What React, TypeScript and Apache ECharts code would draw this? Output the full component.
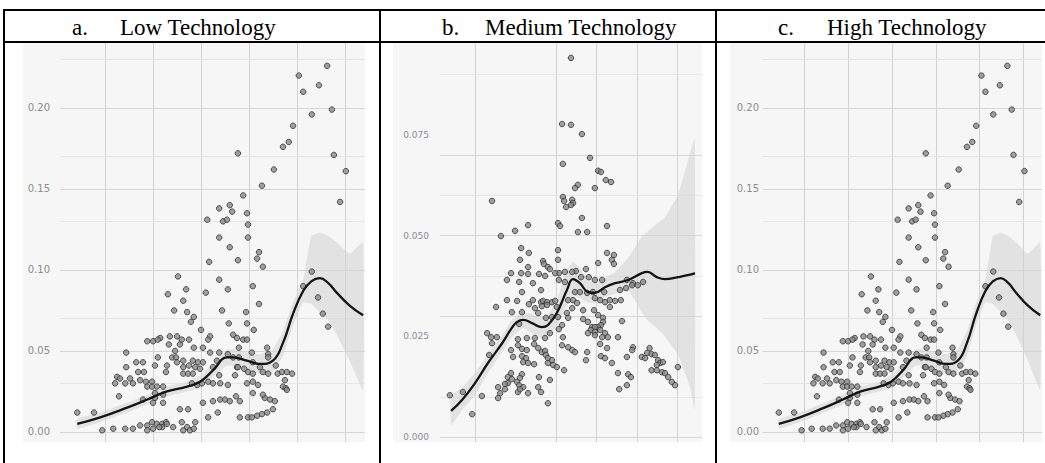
import React, { useEffect, useRef } from "react";
import * as echarts from "echarts";

// ---------- Data: Low / High Technology (same sample in panels a and c) ----------
const lowHighPoints: [number, number][] = [
  [5.63, 0.226], [5.04, 0.22], [5.46, 0.214], [5.13, 0.21], [5.31, 0.196], [5.73, 0.199],
  [4.92, 0.189], [4.83, 0.179], [4.71, 0.176], [3.77, 0.172], [5.77, 0.171], [4.52, 0.162],
  [6.02, 0.161], [4.27, 0.152], [3.88, 0.146], [5.9, 0.142], [3.38, 0.138], [3.6, 0.14],
  [3.65, 0.136], [3.96, 0.135], [3.13, 0.131], [3.46, 0.13], [3.54, 0.131], [3.98, 0.128],
  [3.38, 0.12], [3.98, 0.12],
  [3.6, 0.114], [4.21, 0.111], [3.77, 0.106], [4.17, 0.107], [3.17, 0.105], [4.29, 0.102],
  [5.31, 0.099], [2.52, 0.096], [3.38, 0.094], [5.13, 0.09], [2.69, 0.088], [4.08, 0.09],
  [3.56, 0.088], [3.1, 0.086], [2.31, 0.085], [5.44, 0.083], [2.63, 0.081], [4.21, 0.079],
  [3.44, 0.075], [3.94, 0.074], [2.44, 0.075], [2.71, 0.074], [5.54, 0.073], [2.85, 0.071],
  [2.79, 0.068], [3.58, 0.067], [3.96, 0.067], [5.65, 0.065], [4.1, 0.063], [3.0, 0.063],
  [3.67, 0.06], [3.19, 0.059], [2.15, 0.058], [2.35, 0.059], [2.5, 0.059], [2.6, 0.057],
  [2.75, 0.057], [1.88, 0.056], [2.0, 0.056], [2.1, 0.057], [3.75, 0.058], [3.88, 0.057],
  [3.96, 0.057], [2.33, 0.054], [2.56, 0.054], [3.15, 0.057], [2.85, 0.052], [3.04, 0.052],
  [3.79, 0.052], [4.38, 0.052], [1.44, 0.049], [2.46, 0.05], [3.38, 0.049], [4.06, 0.049],
  [3.19, 0.049], [3.56, 0.048], [4.4, 0.048], [1.65, 0.043], [1.79, 0.043], [2.1, 0.046],
  [2.4, 0.046], [2.48, 0.046], [2.63, 0.044], [2.83, 0.044], [2.94, 0.043], [3.04, 0.043],
  [3.33, 0.044], [3.67, 0.046], [3.79, 0.046], [4.4, 0.046], [2.5, 0.043], [2.63, 0.04],
  [2.04, 0.041], [2.29, 0.041], [2.75, 0.041], [2.88, 0.04], [3.25, 0.04], [4.08, 0.043],
  [4.56, 0.041], [3.75, 0.04], [1.44, 0.04], [2.98, 0.039], [1.69, 0.037], [1.81, 0.037],
  [2.27, 0.037], [2.63, 0.036], [2.73, 0.036], [2.83, 0.036], [3.77, 0.04], [3.9, 0.039],
  [4.23, 0.04], [4.29, 0.037], [4.4, 0.036], [3.98, 0.037], [4.08, 0.036], [1.25, 0.034],
  [3.38, 0.035], [3.71, 0.035], [4.6, 0.036], [4.69, 0.037], [4.79, 0.037], [4.9, 0.036],
  [1.31, 0.033], [1.52, 0.033], [1.73, 0.032], [1.85, 0.031], [1.98, 0.031], [3.15, 0.031],
  [3.25, 0.03], [3.4, 0.03], [3.56, 0.029], [3.96, 0.03], [4.08, 0.031], [4.19, 0.029],
  [4.75, 0.032], [1.21, 0.03], [1.42, 0.03], [1.58, 0.03], [1.88, 0.028], [1.98, 0.028],
  [2.08, 0.028], [2.21, 0.028], [2.81, 0.03], [2.92, 0.029], [3.02, 0.03], [4.71, 0.028],
  [4.77, 0.027], [4.79, 0.026], [1.29, 0.022], [2.04, 0.024], [2.21, 0.023], [1.79, 0.02],
  [2.04, 0.021], [2.0, 0.018], [2.21, 0.018], [3.04, 0.018], [3.25, 0.019], [3.4, 0.02],
  [3.5, 0.02], [3.6, 0.019], [3.73, 0.022], [3.81, 0.019], [4.33, 0.021], [4.44, 0.02],
  [4.54, 0.019], [4.08, 0.024], [4.29, 0.023], [2.56, 0.014], [2.73, 0.014], [3.35, 0.012],
  [4.5, 0.014], [4.38, 0.012], [4.27, 0.011], [4.17, 0.01], [3.15, 0.009], [3.81, 0.009],
  [3.98, 0.009], [4.06, 0.009], [0.42, 0.012], [0.77, 0.012], [0.94, 0.001], [1.17, 0.002],
  [1.42, 0.002], [1.58, 0.002], [1.73, 0.004], [1.88, 0.004], [1.98, 0.006], [2.08, 0.005],
  [2.19, 0.005], [2.27, 0.006], [2.19, 0.003], [2.29, 0.005], [2.42, 0.003], [2.6, 0.006],
  [2.71, 0.003], [2.63, 0.001], [2.77, 0.001], [2.85, 0.002], [2.88, 0.006], [1.88, 0.001],
  [2.0, 0.002], [2.13, 0.003],
];
const lowHighCurveX = [0.42, 0.9, 1.46, 1.88, 2.29, 2.71, 2.98, 3.25, 3.54, 3.67, 3.96, 4.23, 4.5, 4.71, 4.92, 5.13, 5.3, 5.48, 5.65, 5.83, 6.1, 6.38];
const lowHighCurveY = [0.005, 0.009, 0.015, 0.02, 0.025, 0.028, 0.031, 0.038, 0.046, 0.046, 0.044, 0.042, 0.044, 0.055, 0.073, 0.087, 0.093, 0.095, 0.092, 0.086, 0.078, 0.072];
const lowHighBandLow = [0.002, 0.006, 0.012, 0.017, 0.022, 0.025, 0.027, 0.034, 0.041, 0.041, 0.039, 0.036, 0.037, 0.047, 0.066, 0.08, 0.079, 0.074, 0.069, 0.06, 0.044, 0.026];
const lowHighBandHigh = [0.008, 0.012, 0.018, 0.023, 0.028, 0.031, 0.035, 0.042, 0.051, 0.051, 0.049, 0.048, 0.051, 0.062, 0.08, 0.094, 0.121, 0.123, 0.121, 0.117, 0.11, 0.117];

// ---------- Data: Medium Technology ----------
const mediumPoints: [number, number][] = [
  [3.37, 0.0941], [3.15, 0.0777], [3.37, 0.0775], [3.64, 0.0752], [3.84, 0.0693], [3.17, 0.0678],
  [4.04, 0.0661], [4.11, 0.0658], [4.23, 0.0638], [4.36, 0.0633], [3.54, 0.0626], [3.47, 0.0618],
  [3.96, 0.0618], [1.42, 0.0586], [3.17, 0.0596], [3.2, 0.0586], [3.4, 0.0589], [3.42, 0.0581],
  [3.25, 0.0571], [3.37, 0.0576], [3.64, 0.0544], [2.31, 0.0526], [1.99, 0.0512], [1.64, 0.0499],
  [3.05, 0.0531], [3.1, 0.0524], [4.26, 0.0524], [3.54, 0.0509], [3.77, 0.0509], [2.14, 0.0469],
  [2.33, 0.0457], [3.05, 0.0464], [3.05, 0.044], [4.26, 0.0457], [4.43, 0.0452], [4.38, 0.044],
  [4.43, 0.043], [2.11, 0.044], [2.68, 0.0437], [2.7, 0.043], [2.8, 0.0422], [2.85, 0.0417],
  [2.31, 0.0422], [4.04, 0.0432], [3.74, 0.0417], [3.49, 0.0412], [3.4, 0.041], [3.22, 0.041],
  [3.07, 0.0407], [2.98, 0.0407], [1.89, 0.0407], [2.14, 0.0407], [2.31, 0.0405], [2.58, 0.0405],
  [2.73, 0.04], [1.79, 0.039], [2.09, 0.0385], [2.43, 0.0382], [3.62, 0.0397], [3.81, 0.0397],
  [3.96, 0.039], [4.14, 0.039], [4.75, 0.039], [4.9, 0.0382], [5.02, 0.0377], [5.15, 0.0385],
  [3.07, 0.039], [3.22, 0.0385], [2.16, 0.036], [2.63, 0.0365], [3.47, 0.036], [3.59, 0.036],
  [3.77, 0.0358], [3.91, 0.036], [4.19, 0.036], [4.58, 0.0365], [4.73, 0.037], [4.88, 0.0377],
  [1.79, 0.034], [2.04, 0.0338], [2.43, 0.034], [2.63, 0.0335], [2.68, 0.0338], [2.78, 0.0335],
  [2.9, 0.0335], [2.98, 0.0338], [2.33, 0.033], [3.3, 0.034], [3.42, 0.034], [3.52, 0.0333],
  [3.96, 0.0345], [4.09, 0.034], [4.21, 0.0335], [4.33, 0.034], [4.46, 0.0338], [4.6, 0.034],
  [1.52, 0.0323], [4.33, 0.0323], [2.48, 0.032], [2.65, 0.0325], [2.78, 0.0328], [3.02, 0.0323],
  [3.4, 0.032], [3.67, 0.0315], [3.94, 0.0315], [1.91, 0.031], [2.16, 0.031], [2.56, 0.0308],
  [2.75, 0.0296], [2.9, 0.0298], [3.05, 0.0298], [3.27, 0.0308], [3.3, 0.0296], [4.04, 0.0303],
  [4.16, 0.0296], [4.16, 0.0286], [4.11, 0.0278], [4.04, 0.0273], [3.67, 0.0293], [4.63, 0.0288],
  [2.09, 0.0281], [3.15, 0.0278], [3.07, 0.0268], [3.79, 0.0286], [3.89, 0.0273], [3.96, 0.0273],
  [3.86, 0.0266], [3.96, 0.0261], [3.79, 0.0258], [4.09, 0.0266], [4.21, 0.0258], [4.14, 0.0248],
  [3.96, 0.0253], [1.3, 0.0258], [1.4, 0.0248], [1.54, 0.0248], [2.06, 0.0243], [2.28, 0.0246],
  [2.48, 0.0246], [2.73, 0.0246], [3.17, 0.0248], [4.28, 0.0248], [4.53, 0.0248], [2.85, 0.0258],
  [1.42, 0.0233], [2.06, 0.0228], [2.46, 0.0231], [3.15, 0.0228], [3.3, 0.0223], [4.09, 0.0231],
  [3.4, 0.0216], [3.47, 0.0211], [3.77, 0.0211], [1.89, 0.0216], [2.16, 0.0219], [2.28, 0.0216],
  [2.56, 0.0221], [2.65, 0.0211], [2.73, 0.0214], [4.26, 0.0221], [4.9, 0.0223], [4.88, 0.0216],
  [5.31, 0.0221], [5.25, 0.0209], [5.36, 0.0206], [5.44, 0.0204], [1.35, 0.0204], [1.94, 0.0199],
  [2.16, 0.0201], [2.26, 0.0196], [2.19, 0.0186], [2.75, 0.0204], [2.8, 0.0196], [2.9, 0.0191],
  [3.74, 0.0191], [4.11, 0.0201], [4.21, 0.0196], [4.75, 0.0199], [5.12, 0.0199], [5.2, 0.0196],
  [5.52, 0.0191], [5.57, 0.0184], [5.64, 0.0186], [5.49, 0.0179], [2.31, 0.0184], [2.46, 0.0181],
  [2.8, 0.0184], [2.93, 0.0179], [3.02, 0.0174], [4.38, 0.0184], [5.36, 0.0166], [5.49, 0.0166],
  [5.62, 0.0161], [5.69, 0.0159], [6.01, 0.0174], [3.2, 0.0166], [1.89, 0.0159], [2.16, 0.0156],
  [2.11, 0.0147], [1.81, 0.0149], [1.91, 0.0144], [2.04, 0.0137], [1.81, 0.0134], [1.74, 0.0132],
  [2.58, 0.0149], [2.85, 0.0142], [4.53, 0.0159], [4.78, 0.0156], [4.85, 0.0149], [5.77, 0.0149],
  [5.86, 0.0137], [5.94, 0.0129], [4.75, 0.0129], [1.57, 0.0124], [1.74, 0.0119], [1.62, 0.0109],
  [1.57, 0.0097], [2.09, 0.0129], [2.19, 0.0124], [2.31, 0.0109], [2.06, 0.0112], [2.56, 0.0124],
  [2.63, 0.0112], [2.11, 0.0119], [4.56, 0.0119], [0.38, 0.0104], [0.7, 0.0112], [1.17, 0.0102],
  [2.8, 0.0084], [0.93, 0.0057],
];
const mediumCurveX = [0.41, 0.68, 1.0, 1.32, 1.67, 1.91, 2.04, 2.19, 2.41, 2.65, 2.8, 3.02, 3.27, 3.42, 3.59, 3.79, 3.96, 4.21, 4.46, 4.78, 5.12, 5.26, 5.49, 5.69, 6.01, 6.31, 6.43];
const mediumCurveY = [0.0065, 0.0092, 0.0134, 0.0184, 0.0233, 0.0271, 0.0286, 0.0291, 0.0283, 0.0273, 0.0278, 0.0308, 0.0365, 0.0392, 0.0382, 0.036, 0.0358, 0.0372, 0.0382, 0.039, 0.0407, 0.041, 0.0397, 0.0392, 0.0397, 0.0403, 0.0407];
const mediumBandLow = [0.003, 0.0067, 0.0104, 0.0159, 0.0211, 0.0248, 0.026, 0.0271, 0.0258, 0.0246, 0.0251, 0.0276, 0.0328, 0.0353, 0.0345, 0.0333, 0.0333, 0.0348, 0.0355, 0.0365, 0.031, 0.029, 0.027, 0.025, 0.0205, 0.0124, 0.0067];
const mediumBandHigh = [0.0104, 0.0122, 0.0159, 0.0206, 0.0253, 0.0291, 0.03, 0.031, 0.0305, 0.0298, 0.0305, 0.034, 0.0415, 0.0435, 0.042, 0.039, 0.0382, 0.0395, 0.041, 0.0445, 0.0497, 0.051, 0.053, 0.0545, 0.06, 0.0705, 0.0742];

// ---------- Axes ----------
const ticksLowHigh = [0, 0.05, 0.1, 0.15, 0.2];
const minorLowHigh = [0.025, 0.075, 0.125, 0.175, 0.225];
const xLinesLowHigh = [1, 2, 3, 4, 5, 6];
const ticksMedium = [0, 0.025, 0.05, 0.075];
const minorMedium = [0.0125, 0.0375, 0.0625, 0.0875];
const xLinesMedium = [1, 3, 4, 5, 6];

const panelLetters = ["a.", "b.", "c."];
const panelTitles = ["Low Technology", "Medium Technology", "High Technology"];

type Panel = {
  left: number; width: number; bgLeft: number; bgWidth: number;
  xMin: number; xMax: number; yMin: number; yMax: number;
  ticks: number[]; minor: number[]; xLines: number[]; decimals: number;
  labelMargin: number; labelSize: number;
  points: [number, number][]; cx: number[]; cy: number[]; lo: number[]; hi: number[];
  letterX: number; titleX: number;
};

const panels: Panel[] = [
  {
    left: 60, width: 305, bgLeft: 23, bgWidth: 342, xMin: 0.06, xMax: 6.42, yMin: -0.0062, yMax: 0.2401,
    ticks: ticksLowHigh, minor: minorLowHigh, xLines: xLinesLowHigh, decimals: 2, labelMargin: 10, labelSize: 10,
    points: lowHighPoints, cx: lowHighCurveX, cy: lowHighCurveY, lo: lowHighBandLow, hi: lowHighBandHigh,
    letterX: 72, titleX: 120,
  },
  {
    left: 440, width: 262, bgLeft: 393, bgWidth: 309, xMin: 0.136, xMax: 6.605, yMin: -0.0012, yMax: 0.0978,
    ticks: ticksMedium, minor: minorMedium, xLines: xLinesMedium, decimals: 3, labelMargin: 11, labelSize: 9,
    points: mediumPoints, cx: mediumCurveX, cy: mediumCurveY, lo: mediumBandLow, hi: mediumBandHigh,
    letterX: 442, titleX: 485,
  },
  {
    left: 763, width: 279, bgLeft: 730, bgWidth: 312, xMin: 0.06, xMax: 6.42, yMin: -0.0062, yMax: 0.2401,
    ticks: ticksLowHigh, minor: minorLowHigh, xLines: xLinesLowHigh, decimals: 2, labelMargin: 4, labelSize: 10,
    points: lowHighPoints, cx: lowHighCurveX, cy: lowHighCurveY, lo: lowHighBandLow, hi: lowHighBandHigh,
    letterX: 778, titleX: 827,
  },
];

const GRID_TOP = 43;
const GRID_HEIGHT = 399;

function buildOption() {
  const grid: any[] = [];
  const xAxis: any[] = [];
  const yAxis: any[] = [];
  const series: any[] = [];
  const graphic: any[] = [];

  panels.forEach((p, i) => {
    grid.push({ left: p.left, top: GRID_TOP, width: p.width, height: GRID_HEIGHT, containLabel: false });
    xAxis.push({
      type: "value", gridIndex: i, min: p.xMin, max: p.xMax, show: false,
      splitLine: { show: false },
    });
    yAxis.push({
      type: "value", gridIndex: i, min: p.yMin, max: p.yMax,
      axisLine: { show: false }, axisTick: { show: false }, splitLine: { show: false },
      axisLabel: {
        customValues: p.ticks,
        margin: p.labelMargin,
        color: "#8c8c8c",
        fontSize: p.labelSize,
        fontFamily: "DejaVu Sans",
        formatter: (v: number) => Number(v).toFixed(p.decimals),
      },
    });

    const gridLines: any[] = [];
    p.xLines.forEach((v) => gridLines.push({ xAxis: v, lineStyle: { color: "#d2d2d2", width: 1, type: "solid" } }));
    p.ticks.forEach((v) => gridLines.push({ yAxis: v, lineStyle: { color: "#d6d6d6", width: 1, type: "solid" } }));
    p.minor.forEach((v) => gridLines.push({ yAxis: v, lineStyle: { color: "#e6e6e6", width: 1, type: "solid" } }));

    series.push({
      type: "line", xAxisIndex: i, yAxisIndex: i, data: [], silent: true, z: 1,
      markLine: {
        silent: true, z: 1, symbol: ["none", "none"], label: { show: false },
        emphasis: { disabled: true }, animation: false, data: gridLines,
      },
    });

    series.push({
      type: "custom", xAxisIndex: i, yAxisIndex: i, silent: true, z: 2,
      data: [[p.cx[0], p.cy[0]]],
      renderItem: (_params: any, api: any) => {
        const pts: number[][] = [];
        for (let k = 0; k < p.cx.length; k++) pts.push(api.coord([p.cx[k], p.hi[k]]));
        for (let k = p.cx.length - 1; k >= 0; k--) pts.push(api.coord([p.cx[k], p.lo[k]]));
        return {
          type: "polygon",
          shape: { points: pts, smooth: 0.1 },
          style: { fill: "#d2d2d2", opacity: 0.55 },
        };
      },
    });

    series.push({
      type: "scatter", xAxisIndex: i, yAxisIndex: i, z: 3, silent: true,
      data: p.points, symbolSize: 5.5,
      itemStyle: { color: "#8a8a8a", borderColor: "#2e2e2e", borderWidth: 1 },
    });

    series.push({
      type: "line", xAxisIndex: i, yAxisIndex: i, z: 4, silent: true,
      data: p.cx.map((x, k) => [x, p.cy[k]]),
      smooth: 0.45, showSymbol: false, symbol: "none",
      lineStyle: { color: "#141414", width: 2.3 },
    });

    graphic.push({
      type: "rect", z: -10, silent: true,
      shape: { x: p.bgLeft, y: GRID_TOP, width: p.bgWidth, height: GRID_HEIGHT },
      style: { fill: "#f6f6f6" },
    });
    graphic.push({
      type: "text", z: 50, silent: true, x: p.letterX, y: 27,
      style: { text: panelLetters[i], font: "23px 'Liberation Serif'", fill: "#000", verticalAlign: "middle", align: "left" },
    });
    graphic.push({
      type: "text", z: 50, silent: true, x: p.titleX, y: 27,
      style: { text: panelTitles[i], font: "23px 'Liberation Serif'", fill: "#000", verticalAlign: "middle", align: "left" },
    });
  });

  const lineStyle = { stroke: "#000", lineWidth: 2 };
  const tableLines = [
    [3, 10, 1045, 10],
    [3, 42, 1045, 42],
    [4, 10, 4, 463],
    [380, 10, 380, 463],
    [716, 10, 716, 463],
  ];
  tableLines.forEach(([x1, y1, x2, y2]) =>
    graphic.push({ type: "line", z: 100, silent: true, shape: { x1, y1, x2, y2 }, style: lineStyle })
  );

  return {
    animation: false,
    backgroundColor: "#ffffff",
    grid, xAxis, yAxis, series, graphic,
  };
}

export default function App() {
  const ref = useRef<HTMLDivElement>(null);
  useEffect(() => {
    if (!ref.current) return;
    const chart = echarts.init(ref.current, undefined, { renderer: "svg" });
    chart.setOption(buildOption() as any);
    return () => chart.dispose();
  }, []);
  return (
    <div
      ref={ref}
      style={{ position: "fixed", left: 0, top: 0, width: 1045, height: 463, background: "#fff" }}
    />
  );
}
